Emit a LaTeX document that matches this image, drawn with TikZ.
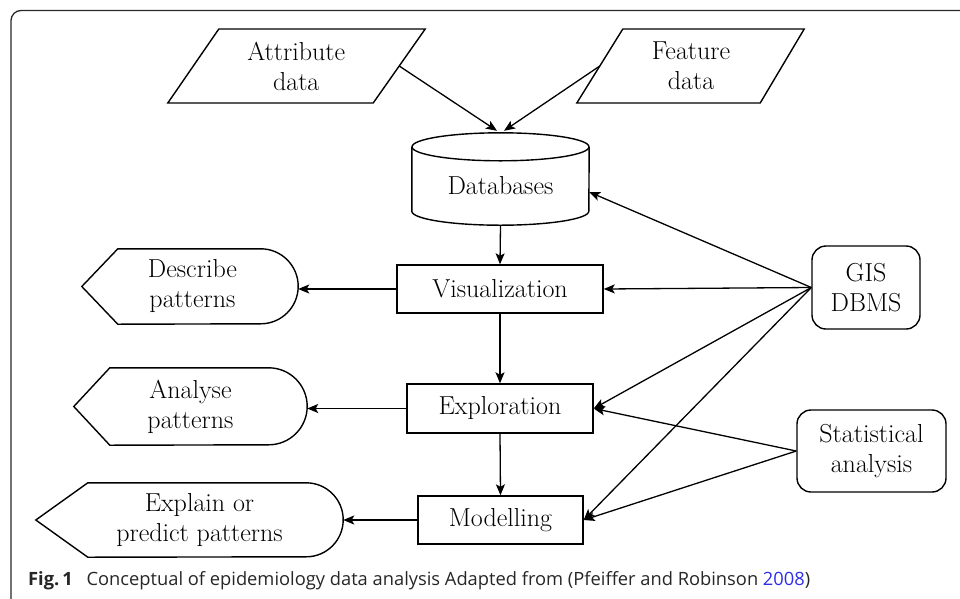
\documentclass[tikz,border=0pt]{standalone}
\usepackage{fontspec}
\newfontfamily\capfont{Open Sans}
\usetikzlibrary{arrows.meta,calc}
\definecolor{linkblue}{RGB}{45,45,235}
\definecolor{framegray}{RGB}{40,40,40}

\begin{document}
\begin{tikzpicture}[x=1pt,y=-1pt,
  txt/.style={font=\fontsize{26}{30}\selectfont, align=center, inner sep=0pt},
  box/.style={txt, draw, line width=1.4pt},
  roundbox/.style={box, rounded corners=14pt},
  outline/.style={draw, line width=1.4pt, line join=miter},
  arr/.style={-{Stealth[length=11pt,width=9pt,inset=2.5pt]}, line width=1.3pt},
]
\useasboundingbox (0,0) rectangle (960,598);
\begin{scope}
  \clip (0,0) rectangle (960,598);
  % frame round the figure
  \draw[framegray, line width=1.3pt, rounded corners=10pt] (11,10.5) rectangle (1000,640);
\end{scope}

% data sources (parallelograms)
\node[txt, minimum width=205.5pt, minimum height=74pt] (attr) at (296.25,66) {Attribute\\data};
\draw[outline] ([shift={(26pt,37pt)}]attr.east) -- ([shift={(-26pt,-37pt)}]attr.east)
  -- ([shift={(-25.5pt,-37pt)}]attr.west) -- ([shift={(25.5pt,37pt)}]attr.west) -- cycle;
\node[txt, minimum width=182pt, minimum height=74pt] (feat) at (691,66) {Feature\\data};
\draw[outline] ([shift={(22pt,37pt)}]feat.east) -- ([shift={(-22pt,-37pt)}]feat.east)
  -- ([shift={(-23pt,-37pt)}]feat.west) -- ([shift={(23pt,37pt)}]feat.west) -- cycle;

% database cylinder
\node[txt, minimum width=177pt, minimum height=78pt] (db) at (500.5,186) {Databases};
\draw[outline] (db.north west) -- ([yshift=14pt]db.south west)
  arc[start angle=180, end angle=360, x radius=88.5pt, y radius=14pt]
  -- (db.north east);
\draw[outline] (db.north) ellipse[x radius=88.5pt, y radius=14pt];
\coordinate (dbtopL) at ([xshift=-3.5pt,yshift=16pt]db.north);
\coordinate (dbtopR) at ([xshift=3.5pt,yshift=16pt]db.north);

% process steps
\node[box, minimum width=206pt, minimum height=48pt] (vis) at (500,289) {Visualization};
\node[box, minimum width=186pt, minimum height=49pt] (expl) at (500,408.5) {Exploration};
\node[box, minimum width=165pt, minimum height=48pt] (mod) at (500.5,520) {Modelling};

% tools
\node[roundbox, minimum width=108pt, minimum height=83pt] (gis) at (866,287.5) {GIS\\DBMS};
\node[roundbox, minimum width=149pt, minimum height=82pt] (stat) at (871.5,451) {Statistical\\analysis};

% outcomes (display shapes)
\node[txt, minimum width=216pt, minimum height=75pt] (desc) at (190,286.5) {\hspace*{5pt}Describe\\\hspace*{5pt}patterns};
\draw[outline] (desc.west) -- ([xshift=36pt]desc.north west) -- ([xshift=-37.5pt]desc.north east)
  arc[start angle=90, end angle=-90, radius=37.5pt] -- ([xshift=36pt]desc.south west) -- cycle;
\node[txt, minimum width=233pt, minimum height=77pt] (anal) at (190.5,406.5) {Analyse\\patterns};
\draw[outline] (anal.west) -- ([xshift=36pt]anal.north west) -- ([xshift=-38.5pt]anal.north east)
  arc[start angle=90, end angle=-90, radius=38.5pt] -- ([xshift=36pt]anal.south west) -- cycle;
\node[txt, minimum width=307pt, minimum height=74pt] (expn) at (189.5,520) {\hspace*{20pt}Explain or\\\hspace*{20pt}predict patterns};
\draw[outline] (expn.west) -- ([xshift=52pt]expn.north west) -- ([xshift=-37pt]expn.north east)
  arc[start angle=90, end angle=-90, radius=37pt] -- ([xshift=52pt]expn.south west) -- cycle;

% connectors
\draw[arr] (attr.east) -- (dbtopL);
\draw[arr] (feat.west) -- (dbtopR);
\draw[arr] (db.south) -- (vis.north);
\draw[arr] (vis.south) -- (expl.north);
\draw[arr] (expl.south) -- (mod.north);
\draw[arr] (vis.west) -- (vis.west -| desc.east);
\draw[arr] (expl.west) -- (expl.west -| anal.east);
\draw[arr, line width=1.7pt] (mod.west) -- (mod.west -| expn.east);
\draw[arr] (gis.west) -- ([yshift=-6pt]db.east);
\draw[arr] (gis.west) -- (vis.east);
\draw[arr] (gis.west) -- (expl.east);
\draw[arr] (gis.west) -- (mod.east);
\draw[arr] (stat.west) -- (expl.east);
\draw[arr] (stat.west) -- (mod.east);

% caption
\node[anchor=base west, inner sep=0pt, font=\capfont\fontsize{18.3}{21}\selectfont, text=black!85] (cap) at (28,585)
  {\textbf{Fig.\,1}\hspace{0.75em}Conceptual of epidemiology data analysis Adapted from (Pfeiffer and Robinson \textcolor{linkblue}{2008})};
\end{tikzpicture}
\end{document}
